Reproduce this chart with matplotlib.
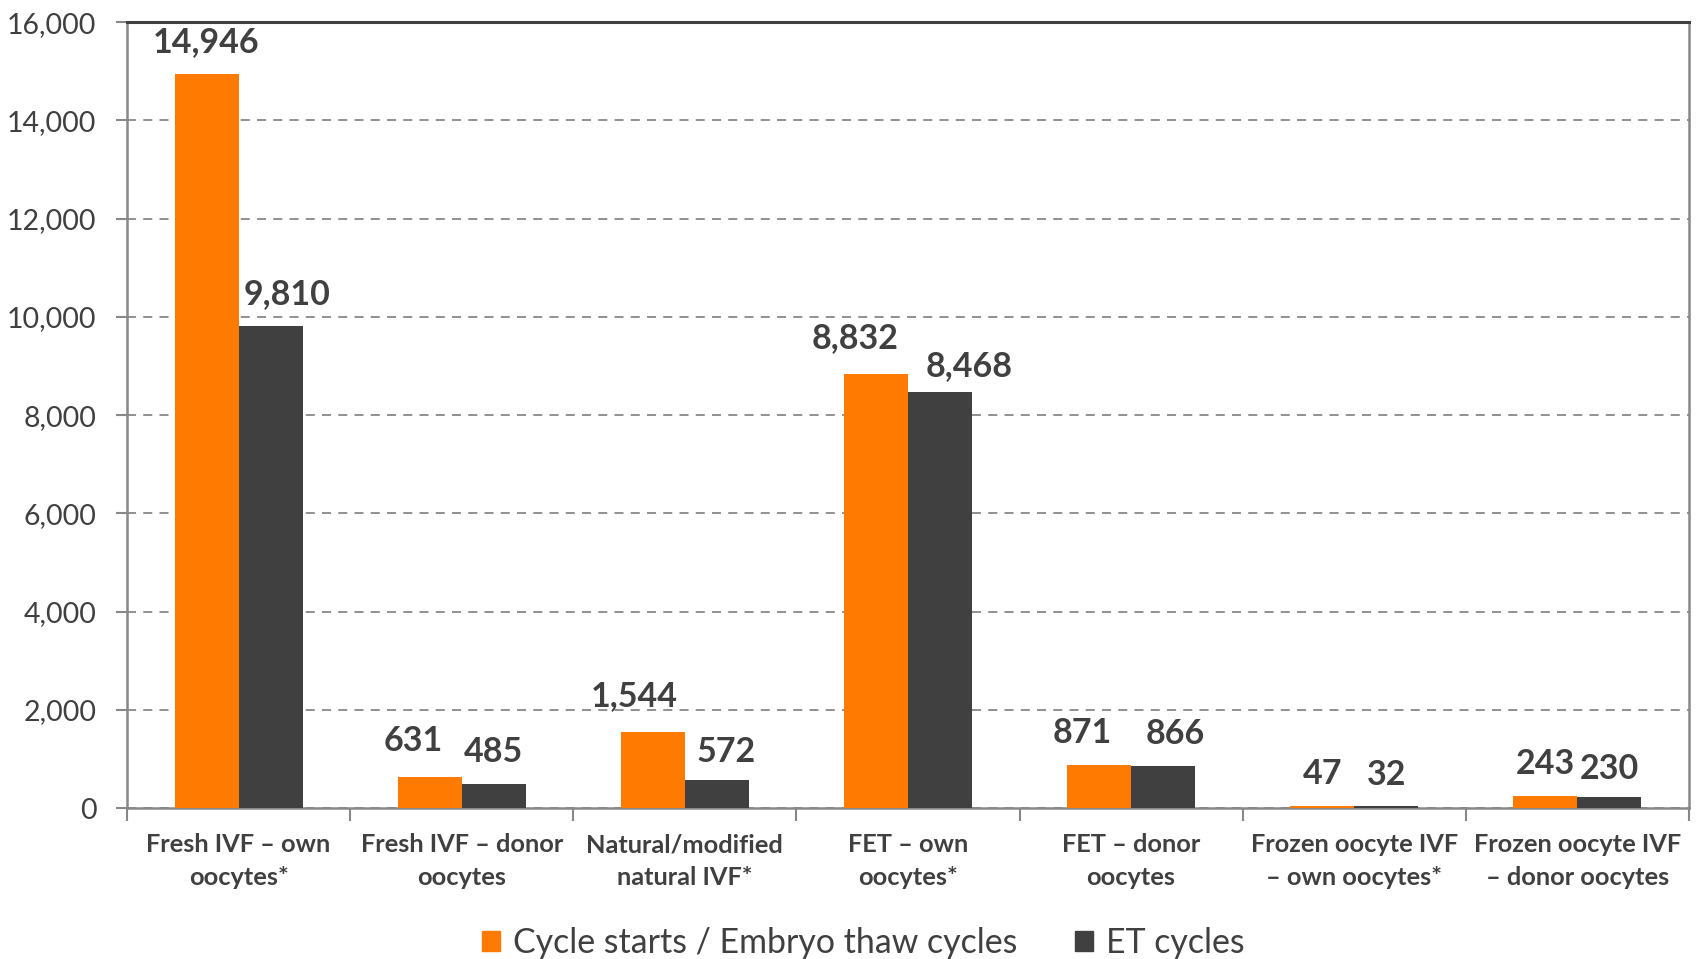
import matplotlib
matplotlib.use("Agg")
import matplotlib.pyplot as plt
from matplotlib.patches import Patch
import numpy as np

plt.rcParams['font.family'] = ['Lato', 'DejaVu Sans']

categories = [
    "Fresh IVF – own\noocytes*",
    "Fresh IVF – donor\noocytes",
    "Natural/modified\nnatural IVF*",
    "FET – own\noocytes*",
    "FET – donor\noocytes",
    "Frozen oocyte IVF\n– own oocytes*",
    "Frozen oocyte IVF\n– donor oocytes",
]
cycle_starts = [14946, 631, 1544, 8832, 871, 47, 243]
et_cycles = [9810, 485, 572, 8468, 866, 32, 230]
series_names = ["Cycle starts / Embryo thaw cycles", "ET cycles"]

# hand-nudged label offsets (points) so neighbouring labels don't collide
nudge_orange = [(0, 0), (-12, 3), (-13, 3), (-15, 3), (-12, 0), (0, 0), (0, 0)]
nudge_dark = [(12, 0), (0, 0), (7, -3), (21, -4), (9, 0), (0, 0), (0, -3)]

orange = "#FF7A00"
dark = "#404040"
text_col = "#404040"

fig = plt.figure(figsize=(17, 9.59), dpi=100)
ax = fig.add_axes([0.0747, 0.1574, 0.9188, 0.8196])

x = np.arange(len(categories))
w = 0.287
b1 = ax.bar(x - w / 2, cycle_starts, w, color=orange, zorder=3)
b2 = ax.bar(x + w / 2, et_cycles, w, color=dark, zorder=3)

for bars, vals, nudges in ((b1, cycle_starts, nudge_orange), (b2, et_cycles, nudge_dark)):
    for rect, v, (dx, dy) in zip(bars, vals, nudges):
        ax.annotate(f"{v:,}", (rect.get_x() + rect.get_width() / 2, v),
                    xytext=(dx, 23 + dy), textcoords="offset points",
                    ha="center", va="center", fontsize=24.5, fontweight="bold",
                    color=text_col)

ax.set_xlim(-0.5, len(categories) - 0.5)
ax.set_ylim(0, 16000)
ax.set_yticks(np.arange(0, 16001, 2000))
ax.yaxis.set_major_formatter(matplotlib.ticker.FuncFormatter(lambda v, p: f"{int(v):,}"))
ax.tick_params(axis="y", labelsize=20.5, labelcolor=text_col, color="#888888",
               length=8, width=1.5, pad=14)
ax.grid(axis="y", linestyle=(0, (5, 4)), color="#888888", linewidth=1.3, zorder=0)

# category labels centred, boundary ticks between groups
ax.set_xticks(x)
ax.set_xticklabels(categories, fontsize=18.3, fontweight="bold", color=text_col,
                   linespacing=1.5)
ax.tick_params(axis="x", which="major", length=0, pad=18)
ax.set_xticks(np.arange(-0.5, len(categories), 1), minor=True)
ax.tick_params(axis="x", which="minor", length=9, width=1.5, color="#888888")

for side in ("left", "bottom", "right"):
    ax.spines[side].set_color("#888888")
    ax.spines[side].set_linewidth(1.8)
ax.spines["top"].set_color(dark)
ax.spines["top"].set_linewidth(2.2)

handles = [Patch(color=orange), Patch(color=dark)]
fig.legend(handles, series_names, loc="center", bbox_to_anchor=(0.508, 0.017),
           ncol=2, frameon=False, fontsize=24.4, labelcolor=text_col,
           handlelength=0.52, handleheight=0.52, handletextpad=0.4,
           columnspacing=1.7)

fig.savefig("out.png", dpi=100)
